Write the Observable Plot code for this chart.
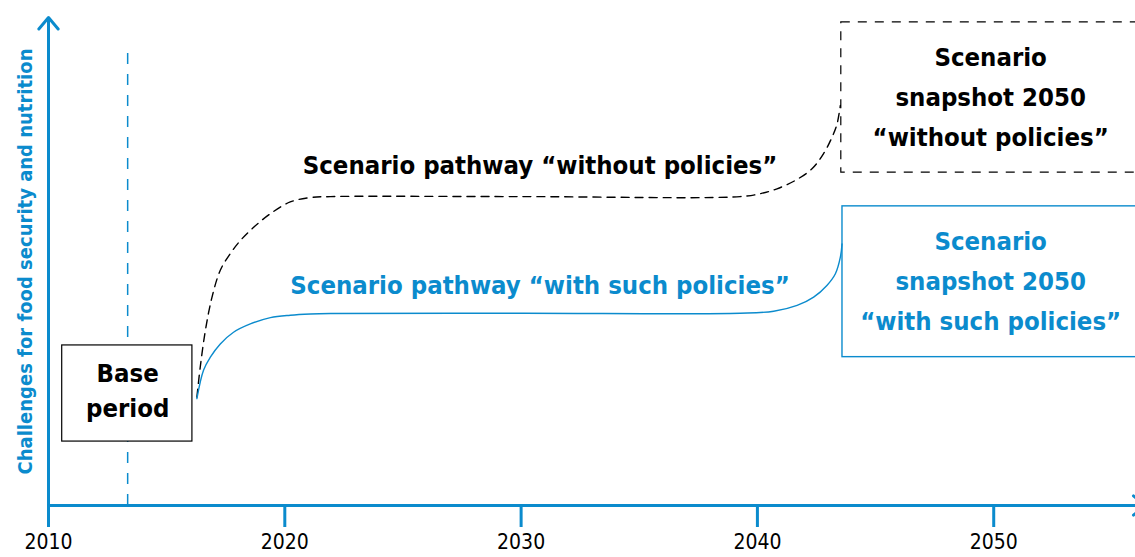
<!DOCTYPE html>
<html><head><meta charset="utf-8">
<script src="https://cdn.jsdelivr.net/npm/d3@7"></script>
<script src="https://cdn.jsdelivr.net/npm/@observablehq/plot@0.6"></script>
<style>html,body{margin:0;padding:0;background:#fff;overflow:hidden} svg text{font-stretch:condensed}</style>
</head><body><div id="chart"></div>
<script>
const BLUE = "#0b8bcd";
const FONT = "'DejaVu Sans Condensed','DejaVu Sans',sans-serif";

// x axis ticks (years)
const tickYears = [2010, 2020, 2030, 2040, 2050];
const yAxisLabel = "Challenges for food security and nutrition";

// Pathway "without policies" (year, challenge level 0-100)
const withoutYears  = [2016.28, 2016.42, 2016.64, 2016.92, 2017.27, 2017.69, 2018.12, 2018.68, 2019.39, 2020.23, 2021.08, 2021.93, 2030, 2039.27, 2040.12, 2040.83, 2041.6, 2042.31, 2042.8, 2043.16, 2043.37, 2043.51];
const withoutValues = [22.2,    28.3,    35.9,    42.7,    48.2,    51.6,    54.3,    57.0,    59.8,    62.2,    63.1,    63.3,    63.3, 63.3,    63.9,    64.9,    66.6,   69.0,    72.1,   75.5,    78.2,    82.0];

// Pathway "with such policies"
const withYears  = [2016.28, 2016.56, 2016.85, 2017.27, 2017.83, 2018.54, 2019.39, 2020.23, 2021.08, 2021.93, 2030, 2039.27, 2040.69, 2041.68, 2042.38, 2042.94, 2043.3, 2043.51, 2043.58];
const withValues = [21.9,    27.7,    30.4,    33.1,    35.5,    37.2,    38.5,    39.0,    39.25,   39.35,   39.4, 39.4,    39.8,    41.0,    42.7,    45.1,    47.5,   50.9,    53.6];

// Boxes
const boxNames = ["base", "without", "with"];
const boxX1 = [2010.58, 2043.55, 2043.6];
const boxX2 = [2016.09, 2057, 2057];
const boxY1 = [13.1, 68.2, 30.4];
const boxY2 = [32.8, 99.0, 61.3];

// Base period marker
const baseYear = 2013.35;
const baseTop = 94.3;

// Labels
const pathwayLabels = ["Scenario pathway \u201cwithout policies\u201d", "Scenario pathway \u201cwith such policies\u201d"];
const pathwayX = [2030.8, 2030.8];
const pathwayY = [69.7, 45.1];
const snapshotLabels = ["Scenario\nsnapshot 2050\n\u201cwithout policies\u201d", "Scenario\nsnapshot 2050\n\u201cwith such policies\u201d"];
const snapshotX = [2049.87, 2049.87];
const snapshotY = [84.4, 46.8];
const baseLabel = "Base\nperiod";
const baseLabelY = 24.0;

const without = withoutYears.map((x, i) => ({x, y: withoutValues[i]}));
const withP = withYears.map((x, i) => ({x, y: withValues[i]}));
const boxes = boxNames.map((n, i) => ({n, x1: boxX1[i], x2: boxX2[i], y1: boxY1[i], y2: boxY2[i]}));

const chart = Plot.plot({
  width: 1135, height: 557,
  marginLeft: 48, marginRight: 0, marginTop: 17, marginBottom: 52,
  style: {fontFamily: FONT, background: "white", overflow: "hidden"},
  x: {domain: [2010, 2056], axis: null},
  y: {domain: [0, 100], axis: null},
  marks: [
    Plot.axisX({ticks: tickYears, tickSize: 22, tickPadding: 7, tickFormat: d => String(d), stroke: BLUE, strokeWidth: 3, fill: "black", fontSize: 21, label: null}),
    Plot.ruleX([baseYear], {x: d => d, y1: 0, y2: baseTop, stroke: BLUE, strokeWidth: 1.5, strokeDasharray: "11,10"}),
    Plot.rect(boxes.filter(d => d.n === "base"), {x1: "x1", x2: "x2", y1: "y1", y2: "y2", fill: "white", stroke: "black", strokeWidth: 1.2}),
    Plot.rect(boxes.filter(d => d.n === "without"), {x1: "x1", x2: "x2", y1: "y1", y2: "y2", fill: "none", stroke: "black", strokeWidth: 1.2, strokeDasharray: "9,8", clip: true}),
    Plot.rect(boxes.filter(d => d.n === "with"), {x1: "x1", x2: "x2", y1: "y1", y2: "y2", fill: "none", stroke: BLUE, strokeWidth: 1.4, clip: true}),
    Plot.line(without, {x: "x", y: "y", curve: "catmull-rom", stroke: "black", strokeWidth: 1.4, strokeDasharray: "8,6"}),
    Plot.line(withP, {x: "x", y: "y", curve: "catmull-rom", stroke: BLUE, strokeWidth: 1.4}),
    Plot.arrow([{x1: 2010, y1: 0, x2: 2010, y2: 100}], {x1: "x1", y1: "y1", x2: "x2", y2: "y2", stroke: BLUE, strokeWidth: 3, headLength: 7.5, headAngle: 80}),
    Plot.arrow([{x1: 2010, y1: 0, x2: 2056.4, y2: 0}], {x1: "x1", y1: "y1", x2: "x2", y2: "y2", stroke: BLUE, strokeWidth: 3, headLength: 7.5, headAngle: 80}),
    Plot.text(pathwayLabels, {x: (d, i) => pathwayX[i], y: (d, i) => pathwayY[i], text: d => d, fill: (d, i) => i === 0 ? "black" : BLUE, fontSize: 25.5, fontWeight: "bold"}),
    Plot.text(snapshotLabels, {x: (d, i) => snapshotX[i], y: (d, i) => snapshotY[i], text: d => d, fill: (d, i) => i === 0 ? "black" : BLUE, fontSize: 25.5, fontWeight: "bold", lineHeight: 1.57}),
    Plot.text([baseLabel], {x: baseYear, y: baseLabelY, text: d => d, fill: "black", fontSize: 25.5, fontWeight: "bold", lineHeight: 1.37}),
    Plot.text([yAxisLabel], {frameAnchor: "left", dx: -23, rotate: -90, textAnchor: "middle", text: d => d, fill: BLUE, fontSize: 20, fontWeight: "bold"})
  ]
});
document.getElementById("chart").appendChild(chart);
</script>
</body></html>
